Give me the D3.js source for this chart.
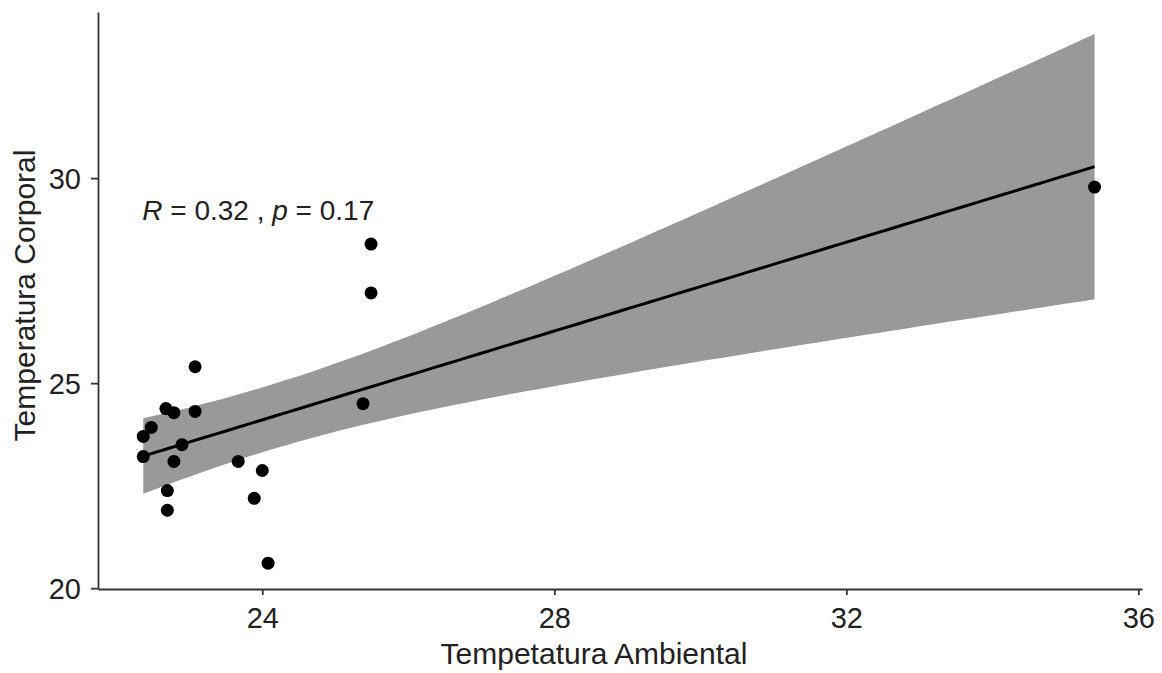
<!DOCTYPE html>
<html>
<head>
<meta charset="utf-8">
<script src="https://cdn.jsdelivr.net/npm/d3@7"></script>
<style>
  body { margin: 0; background: #fff; }
  text { font-family: "Liberation Sans", Arial, sans-serif; }
</style>
</head>
<body>
<div id="chart"></div>
<script>
// values
var tempAmbiental = [22.37, 22.48, 22.37, 22.68, 22.79, 23.08, 23.08, 22.90, 22.79, 22.70,
                     22.70, 23.67, 24.00, 23.89, 24.08, 25.38, 25.49, 25.49, 35.40];
var tempCorporal  = [23.70, 23.92, 23.21, 24.38, 24.28, 25.40, 24.31, 23.50, 23.09, 22.38,
                     21.90, 23.09, 22.87, 22.19, 20.61, 24.50, 28.39, 27.20, 29.78];
var xTicks = [24, 28, 32, 36];
var yTicks = [20, 25, 30];
var corLabel = { R: "0.32", p: "0.17" };

var width = 1162, height = 673;
var margin = { top: 12, right: 20, bottom: 84, left: 98 };

var svg = d3.select('#chart').append('svg')
  .attr('width', width)
  .attr('height', height);

var x = d3.scaleLinear().domain([21.75, 36.05]).range([margin.left, width - margin.right]);
var y = d3.scaleLinear().domain([19.98, 34.05]).range([height - margin.bottom, margin.top]);

// linear fit + 95% confidence band, like geom_smooth(method = "lm")
var pts = tempAmbiental.map(function(v, i) { return { x: v, y: tempCorporal[i] }; });
var n = pts.length;
var mx = d3.mean(pts, function(d) { return d.x; });
var my = d3.mean(pts, function(d) { return d.y; });
var sxx = d3.sum(pts, function(d) { return (d.x - mx) * (d.x - mx); });
var sxy = d3.sum(pts, function(d) { return (d.x - mx) * (d.y - my); });
var slope = sxy / sxx;
var icpt = my - slope * mx;
var sse = d3.sum(pts, function(d) { var r = d.y - (icpt + slope * d.x); return r * r; });
var sigma = Math.sqrt(sse / (n - 2));
var tCrit = 2.1098; // t(0.975, df = 17)

var x0 = d3.min(tempAmbiental), x1 = d3.max(tempAmbiental);
var fit = d3.range(80).map(function(i) {
  var xv = x0 + (x1 - x0) * i / 79;
  var yv = icpt + slope * xv;
  var se = sigma * Math.sqrt(1 / n + (xv - mx) * (xv - mx) / sxx);
  return { x: xv, y: yv, lo: yv - tCrit * se, hi: yv + tCrit * se };
});

svg.append('path')
  .datum(fit)
  .attr('fill', '#999999')
  .attr('d', d3.area()
    .x(function(d) { return x(d.x); })
    .y0(function(d) { return y(d.lo); })
    .y1(function(d) { return y(d.hi); }));

svg.append('path')
  .datum(fit)
  .attr('fill', 'none')
  .attr('stroke', '#000')
  .attr('stroke-width', 3)
  .attr('d', d3.line()
    .x(function(d) { return x(d.x); })
    .y(function(d) { return y(d.y); }));

svg.selectAll('circle')
  .data(pts)
  .enter()
  .append('circle')
  .attr('cx', function(d) { return x(d.x); })
  .attr('cy', function(d) { return y(d.y); })
  .attr('r', 6.5)
  .attr('fill', '#000');

// axes
var xAxis = svg.append('g')
  .attr('transform', 'translate(0,' + (height - margin.bottom) + ')')
  .call(d3.axisBottom(x).tickValues(xTicks).tickSize(6).tickPadding(11).tickSizeOuter(0));
var yAxis = svg.append('g')
  .attr('transform', 'translate(' + margin.left + ',0)')
  .call(d3.axisLeft(y).tickValues(yTicks).tickSize(7).tickPadding(10).tickSizeOuter(0));

[xAxis, yAxis].forEach(function(g) {
  g.select('.domain').attr('stroke', '#333').attr('stroke-width', 1.8);
  g.selectAll('.tick line').attr('stroke', '#333').attr('stroke-width', 1.8);
  g.selectAll('.tick text')
    .attr('fill', '#222')
    .style('font-size', '29px')
    .style('font-family', '"Liberation Sans", Arial, sans-serif');
});
xAxis.selectAll('.tick text').attr('dy', '0.75em');
yAxis.selectAll('.tick text').attr('dy', '0.36em');

// axis titles
svg.append('text')
  .attr('x', 594)
  .attr('y', 664)
  .attr('text-anchor', 'middle')
  .style('font-size', '30px')
  .attr('fill', '#222')
  .text('Tempetatura Ambiental');

svg.append('text')
  .attr('transform', 'translate(35,' + ((margin.top + height - margin.bottom) / 2 - 5) + ') rotate(-90)')
  .attr('text-anchor', 'middle')
  .style('font-size', '30px')
  .attr('fill', '#222')
  .text('Temperatura Corporal');

// correlation label
var lab = svg.append('text')
  .attr('x', x(x0) - 1)
  .attr('y', 220)
  .style('font-size', '28px')
  .attr('fill', '#222');
lab.append('tspan').style('font-style', 'italic').text('R');
lab.append('tspan').text(' = ' + corLabel.R + ' , ');
lab.append('tspan').style('font-style', 'italic').text('p');
lab.append('tspan').text(' = ' + corLabel.p);
</script>
</body>
</html>
